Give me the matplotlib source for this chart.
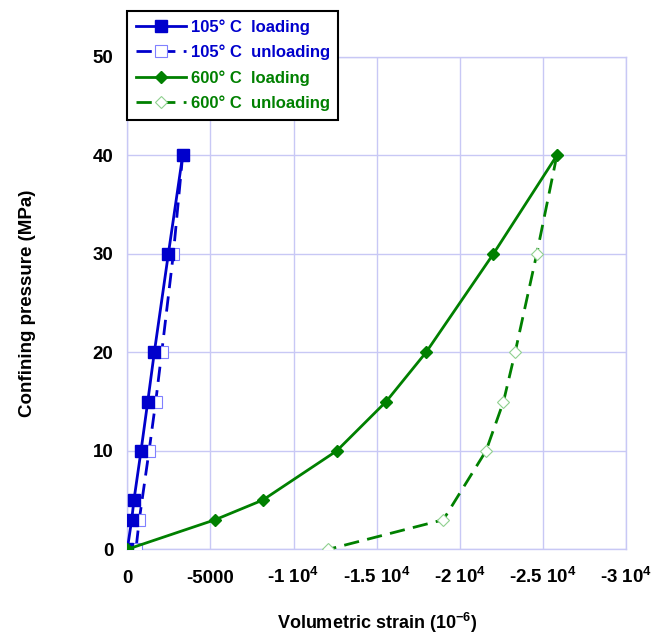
import matplotlib.pyplot as plt
import numpy as np

plt.rcParams['font.family'] = ['Liberation Sans', 'DejaVu Sans']
plt.rcParams['font.weight'] = 'bold'
plt.rcParams['mathtext.fontset'] = 'custom'
plt.rcParams['mathtext.rm'] = 'Liberation Sans:bold'
plt.rcParams['mathtext.it'] = 'Liberation Sans:bold'
plt.rcParams['mathtext.bf'] = 'Liberation Sans:bold'
plt.rcParams['mathtext.default'] = 'bf'

# 105 C loading / unloading
p_load_105 = [0, 3, 5, 10, 15, 20, 30, 40]
e_load_105 = [0, -265, -400, -825, -1230, -1625, -2470, -3330]
p_unload_105 = [40, 30, 20, 15, 10, 3, 0]
e_unload_105 = [-3330, -2770, -2070, -1710, -1310, -720, -520]

# 600 C loading / unloading
p_load_600 = [0, 3, 5, 10, 15, 20, 30, 40]
e_load_600 = [0, -5280, -8150, -12600, -15570, -17970, -22020, -25840]
p_unload_600 = [40, 30, 20, 15, 10, 3, 0]
e_unload_600 = [-25840, -24630, -23330, -22630, -21580, -19010, -12100]

xticks = [0, -5000, -10000, -15000, -20000, -25000, -30000]
xticklabels = ['0', '-5000', r'-1 10$^4$', r'-1.5 10$^4$', r'-2 10$^4$',
               r'-2.5 10$^4$', r'-3 10$^4$']

blue = '#0000CC'
green = '#008000'
grid_c = '#C8C8F5'

fig = plt.figure(figsize=(6.52, 6.37), dpi=100)
ax = fig.add_axes([127.3 / 652, 1 - 549.3 / 637, (626 - 127.3) / 652, (549.3 - 57) / 637])

dash = (5.5, 3)

h1, = ax.plot(e_load_105, p_load_105, '-', color=blue, lw=2, marker='s', ms=9,
              mfc=blue, mec=blue, zorder=4, label=u'105\u00b0 C  loading')
h2, = ax.plot(e_unload_105, p_unload_105, '--', color=blue, lw=2, dashes=dash,
              marker='s', ms=8.5, mfc='white', mec='#8080FF', mew=0.8, zorder=3,
              label=u'105\u00b0 C  unloading')
h3, = ax.plot(e_load_600, p_load_600, '-', color=green, lw=2, marker='D', ms=6.5,
              mfc=green, mec=green, zorder=4, label=u'600\u00b0 C  loading')
h4, = ax.plot(e_unload_600, p_unload_600, '--', color=green, lw=2, dashes=dash,
              marker='D', ms=6.5, mfc='white', mec='#90D090', mew=0.8, zorder=3,
              label=u'600\u00b0 C  unloading')

ax.set_xlim(0, -30000)
ax.set_ylim(0, 50)
ax.set_xticks(xticks)
ax.set_xticklabels(xticklabels)
ax.set_yticks(np.arange(0, 51, 10))
ax.tick_params(length=0, labelsize=13.5)
ax.tick_params(axis='y', pad=10)
ax.tick_params(axis='x', pad=24.5)
for tick in ax.xaxis.get_major_ticks():
    tick.label1.set_va('baseline')
for lbl in ax.get_xticklabels() + ax.get_yticklabels():
    lbl.set_fontweight('bold')

ax.grid(True, color=grid_c, lw=1)
ax.set_axisbelow(True)
for s in ax.spines.values():
    s.set_color(grid_c)
    s.set_linewidth(1)

ax.set_xlabel(r'Volumetric strain (10$^{-6}$)', fontsize=13, fontweight='bold', va='center')
ax.set_ylabel('Confining pressure (MPa)', fontsize=13.5, fontweight='bold', va='center')
ax.xaxis.set_label_coords(0.5, (549.3 - 623) / 492.3)
ax.yaxis.set_label_coords((28 - 127.3) / 498.7, 0.5)

leg = ax.legend(handles=[h1, h2, h3, h4], loc='upper left',
                bbox_to_anchor=(127.3 / 652, 1 - 10.7 / 637),
                bbox_transform=fig.transFigure, borderaxespad=0,
                fancybox=False, framealpha=1, edgecolor='black',
                prop={'size': 12, 'weight': 'bold'}, handlelength=3.0,
                labelspacing=0.6, handletextpad=0.3, borderpad=0.5)
leg.get_frame().set_linewidth(1.5)
for t, c in zip(leg.get_texts(), [blue, blue, green, green]):
    t.set_color(c)

fig.savefig('out.png', dpi=100)
